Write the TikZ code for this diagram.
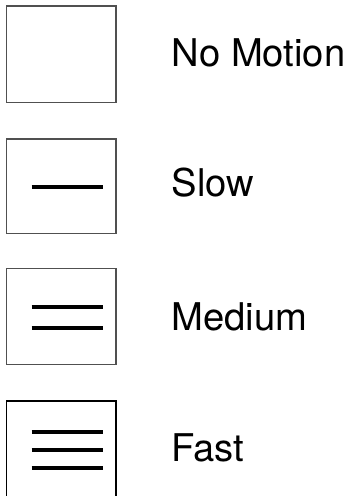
\documentclass[tikz,border=0pt]{standalone}
\usepackage{fontspec}
\setmainfont{TeX Gyre Heros}
\definecolor{boxgray}{HTML}{505050}
\begin{document}
\begin{tikzpicture}[x=1pt,y=-1pt,
  legbox/.style={draw=boxgray,line width=1.5pt},
  speedline/.style={line width=4pt,black},
  lbl/.style={anchor=base west,inner sep=0pt,font=\fontsize{38.2}{40}\selectfont}]
\useasboundingbox (0,0) rectangle (350,496);
% boxes
\draw[legbox] (6.5,5.8) rectangle (116.2,102.3);
\draw[legbox] (6.5,139) rectangle (116.2,233.6);
\draw[legbox] (6.5,268.7) rectangle (116.2,364.7);
\draw[legbox,draw=black] (6.5,401) rectangle (116.2,496.5);
% lines
\coordinate (s1a) at (31.7,186.5); \coordinate (s1b) at (102.7,186.5);
\draw[speedline] (s1a) -- (s1b);
\coordinate (m1a) at (31.7,306.7); \coordinate (m1b) at (102.7,306.7);
\coordinate (m2a) at (31.7,328.3); \coordinate (m2b) at (102.7,328.3);
\draw[speedline] (m1a) -- (m1b);
\draw[speedline] (m2a) -- (m2b);
\coordinate (f1a) at (31.7,432.3); \coordinate (f1b) at (102.7,432.3);
\coordinate (f2a) at (31.7,450.3); \coordinate (f2b) at (102.7,450.3);
\coordinate (f3a) at (31.7,468.3); \coordinate (f3b) at (102.7,468.3);
\draw[speedline] (f1a) -- (f1b);
\draw[speedline] (f2a) -- (f2b);
\draw[speedline] (f3a) -- (f3b);
% labels
\node[lbl] (nomotion) at (171.5,66.7) {No Motion};
\node[lbl] (slow) at (171.5,196.7) {Slow};
\node[lbl] (medium) at (171.5,330) {Medium};
\node[lbl] (fast) at (171.5,461.7) {Fast};
\end{tikzpicture}
\end{document}
